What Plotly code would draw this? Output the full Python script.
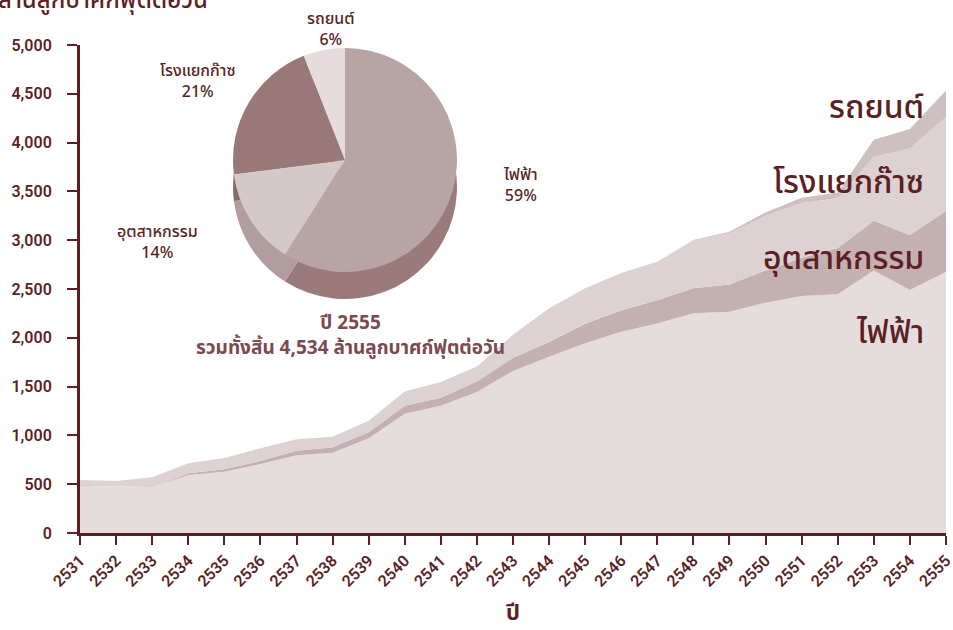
import plotly.graph_objects as go

years = list(range(2531, 2556))
year_labels = [str(y) for y in years]

# million cubic feet per day, by sector (stacked from the bottom)
power = [470, 481, 468, 594, 628, 707, 796, 823, 970, 1222, 1305, 1445, 1660,
         1807, 1945, 2063, 2146, 2252, 2268, 2360, 2428, 2446, 2690, 2490, 2675]
industry = [0, 0, 2, 17, 24, 31, 47, 55, 61, 83, 82, 108, 135,
            151, 200, 219, 240, 255, 277, 330, 392, 474, 510, 563, 625]
gas_plant = [73, 52, 100, 103, 116, 130, 117, 109, 120, 145, 160, 153, 235,
             344, 362, 382, 394, 490, 530, 560, 560, 510, 656, 887, 962]
ngv = [0, 0, 0, 0, 0, 0, 0, 0, 0, 0, 0, 0, 0,
       0, 0, 0, 0, 5, 12, 35, 55, 60, 174, 200, 272]

series_names = ["ไฟฟ้า", "อุตสาหกรรม", "โรงแยกก๊าซ", "รถยนต์"]
pie_labels = ["ไฟฟ้า", "อุตสาหกรรม", "โรงแยกก๊าซ", "รถยนต์"]
pie_share = [59, 14, 21, 6]
pie_year = 2555
pie_total = 4534

y_ticks = list(range(0, 5001, 500))

TXT = "#5b1f24"
FONT = "Noto Sans Thai, Noto Sans, Roboto, sans-serif"
NUMFONT = "Roboto, Noto Sans, sans-serif"
area_colors = ["#e5dcdd", "#c4b0b0", "#dcd2d3", "#cebfc0"]
pie_top_colors = ["#b8a4a5", "#d5c8c9", "#987878", "#e6dcdd"]
pie_side_colors = ["#9a7a7b", "#b29d9e", "#8a6a6b", "#c9b9ba"]

W, H = 953, 630
ML, MR, MT, MB = 80, 7, 45, 97
PW, PH = W - ML - MR, H - MT - MB


def px_x(px):
    return (px - ML) / PW


def px_y(py):
    return (H - MB - py) / PH


fig = go.Figure()
for name, vals, col in zip(series_names, [power, industry, gas_plant, ngv], area_colors):
    fig.add_trace(go.Scatter(
        x=years, y=vals, name=name, stackgroup="one", mode="lines",
        line=dict(width=0, color=col), fillcolor=col, showlegend=False,
        hoverinfo="x+y+name"))

# pie "side" (depth) and top face
fig.add_trace(go.Pie(
    labels=pie_labels, values=pie_share, sort=False, direction="clockwise",
    rotation=0, marker=dict(colors=pie_side_colors, line=dict(width=0)),
    textinfo="none", hoverinfo="skip", showlegend=False,
    domain=dict(x=[px_x(233), px_x(457)], y=[px_y(299), px_y(75)])))
fig.add_trace(go.Pie(
    labels=pie_labels, values=pie_share, sort=False, direction="clockwise",
    rotation=0, marker=dict(colors=pie_top_colors, line=dict(width=0)),
    textinfo="none", hoverinfo="label+percent", showlegend=False,
    domain=dict(x=[px_x(233), px_x(457)], y=[px_y(272), px_y(48)])))

# right-side series labels
label_px = [333, 259, 183, 108]
for name, py in zip(series_names, label_px):
    fig.add_annotation(
        xref="paper", yref="paper", x=px_x(926), y=px_y(py),
        xanchor="right", yanchor="middle", text=name, showarrow=False,
        font=dict(family=FONT, size=32, color=TXT, weight=500))

# pie labels
pie_lab_pos = [(520, 186), (157, 243), (198, 82), (331, 30)]
for lab, sh, (px, py) in zip(pie_labels, pie_share, pie_lab_pos):
    fig.add_annotation(
        xref="paper", yref="paper", x=px_x(px), y=px_y(py),
        xanchor="center", yanchor="middle", text=f"{lab}<br>{sh}%",
        showarrow=False, align="center",
        font=dict(family=FONT, size=16, color=TXT, weight=500))

fig.add_annotation(
    xref="paper", yref="paper", x=px_x(350), y=px_y(336),
    xanchor="center", yanchor="middle",
    text=f"<b>ปี {pie_year}<br>รวมทั้งสิ้น {pie_total:,} ล้านลูกบาศก์ฟุตต่อวัน</b>",
    showarrow=False, align="center",
    font=dict(family=FONT, size=19, color="#7a4a4e"))

# y-axis title (partly clipped at the top)
fig.add_annotation(
    xref="paper", yref="paper", x=px_x(-4), y=px_y(1),
    xanchor="left", yanchor="middle", text="ล้านลูกบาศก์ฟุตต่อวัน",
    showarrow=False, font=dict(family=FONT, size=24, color=TXT, weight=500))

fig.update_layout(
    width=W, height=H, paper_bgcolor="white", plot_bgcolor="white",
    margin=dict(l=ML, r=MR, t=MT, b=MB),
    font=dict(family=FONT, color=TXT),
    xaxis=dict(
        range=[2530.999, 2555.001], tickmode="array", tickvals=years, ticktext=year_labels,
        tickangle=-45, ticks="outside", ticklen=9, tickwidth=2, tickcolor=TXT,
        showline=True, linecolor=TXT, linewidth=3, showgrid=False, zeroline=False,
        automargin=False, ticklabeloverflow="allow",
        tickfont=dict(family=NUMFONT, size=16, color=TXT, weight=600),
        title=dict(text="<b>ปี</b>", font=dict(family=FONT, size=22, color=TXT), standoff=18)),
    yaxis=dict(
        range=[0, 5000], tickmode="array", tickvals=y_ticks,
        ticktext=[f"{v:,}" for v in y_ticks],
        ticks="outside", ticklen=10, tickwidth=2, tickcolor=TXT,
        showline=True, linecolor=TXT, linewidth=3, showgrid=False, zeroline=False,
        automargin=False, ticklabelstandoff=12, ticklabeloverflow="allow",
        tickfont=dict(family=NUMFONT, size=16, color=TXT, weight=600)),
)

fig.write_html(
    "out.html",
    config={"displayModeBar": False},
    post_script="document.body.style.margin='0';document.body.style.overflow='hidden';")
